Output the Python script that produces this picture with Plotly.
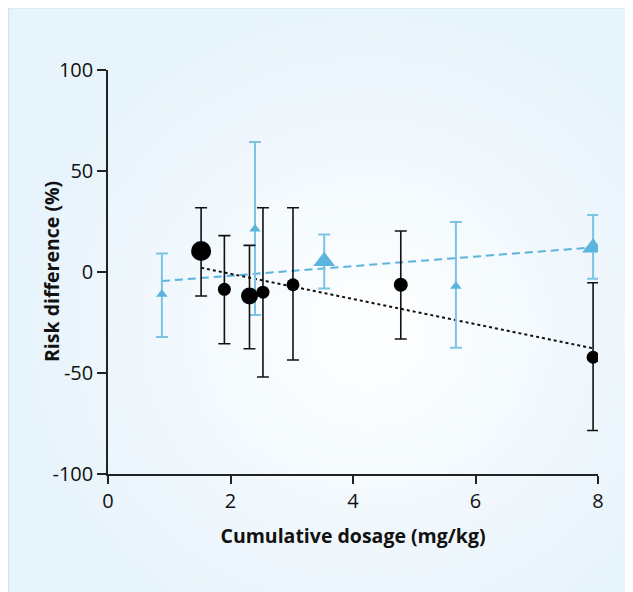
import plotly.graph_objects as go

# Black circles (series 1)
x_black = [1.52, 1.90, 2.31, 2.53, 3.02, 4.78, 7.92]
y_black = [10.4, -8.6, -11.9, -10.0, -6.3, -6.3, -42.2]
hi_black = [31.8, 18.0, 13.2, 31.8, 31.8, 20.3, -5.3]
lo_black = [-11.9, -35.5, -38.0, -52.0, -43.6, -33.2, -78.5]
size_black = [20, 13, 17, 13, 13, 14, 13]

# Blue triangles (series 2)
x_blue = [0.88, 2.40, 3.53, 5.68, 7.92]
y_blue = [-11.0, 21.3, 5.3, -7.0, 12.0]
hi_blue = [9.1, 64.4, 18.6, 24.8, 28.2]
lo_blue = [-32.2, -21.3, -8.2, -37.5, -3.3]
size_blue = [10, 10, 19, 10, 19]

# Trend lines
trend_black_x = [1.52, 7.92]
trend_black_y = [2.1, -37.8]
trend_blue_x = [0.88, 7.92]
trend_blue_y = [-4.5, 12.2]

x_ticks = [0, 2, 4, 6, 8]
y_ticks = [-100, -50, 0, 50, 100]

x_title = "Cumulative dosage (mg/kg)"
y_title = "Risk difference (%)"

# page offset of 8px (browser body margin) compensated
W, H = 625, 584
L, R, T, B = 100, 35, 62, 118
PW, PH = W - L - R, H - T - B

def px(xp):
    return (xp - L) / PW

def py(yp):
    return (H - B - yp) / PH

blue_mark = "#5ab4dc"
blue_err = "#7cc3e4"

fig = go.Figure()

fig.add_trace(go.Scatter(x=trend_blue_x, y=trend_blue_y, mode="lines",
                         line=dict(color=blue_mark, width=2, dash="8px,5px"),
                         hoverinfo="skip", showlegend=False))
fig.add_trace(go.Scatter(x=trend_black_x, y=trend_black_y, mode="lines",
                         line=dict(color="#111111", width=2, dash="3px,3px"),
                         hoverinfo="skip", showlegend=False))

fig.add_trace(go.Scatter(
    x=x_blue, y=y_blue, mode="markers",
    marker=dict(symbol="triangle-up", size=size_blue, color=blue_mark, opacity=1, line=dict(width=0)),
    error_y=dict(type="data", symmetric=False,
                 array=[h - y for h, y in zip(hi_blue, y_blue)],
                 arrayminus=[y - l for l, y in zip(lo_blue, y_blue)],
                 color=blue_err, thickness=2, width=6),
    showlegend=False))

fig.add_trace(go.Scatter(
    x=x_black, y=y_black, mode="markers",
    marker=dict(symbol="circle", size=size_black, color="#000000", opacity=1, line=dict(width=0)),
    error_y=dict(type="data", symmetric=False,
                 array=[h - y for h, y in zip(hi_black, y_black)],
                 arrayminus=[y - l for l, y in zip(lo_black, y_black)],
                 color="#111111", thickness=1.6, width=6),
    showlegend=False))

# Background panel with radial-ish gradient
shapes = []
edge = (232, 244, 251)
center_c = (253, 254, 255)
shapes.append(dict(type="rect", xref="paper", yref="paper",
                   x0=px(0), x1=px(W + 5), y0=py(-1), y1=py(H + 5),
                   fillcolor="rgb(%d,%d,%d)" % edge, line=dict(width=0), layer="below"))
cx, cy, rx, ry = 360, 325, 345, 325
N = 30
for i in range(N):
    f = i / (N - 1)
    s = 1 - f * 0.92
    c = tuple(int(round(edge[k] + (center_c[k] - edge[k]) * f)) for k in range(3))
    shapes.append(dict(type="circle", xref="paper", yref="paper",
                       x0=px(cx - rx * s), x1=px(cx + rx * s),
                       y0=py(cy - ry * s), y1=py(cy + ry * s),
                       fillcolor="rgb(%d,%d,%d)" % c, line=dict(width=0), layer="below"))
shapes.append(dict(type="line", xref="paper", yref="paper",
                   x0=px(0.5), x1=px(0.5), y0=py(-1), y1=py(H + 5),
                   line=dict(color="#cfe5f3", width=1.5), layer="below"))
shapes.append(dict(type="line", xref="paper", yref="paper",
                   x0=px(0), x1=px(W + 5), y0=py(0), y1=py(0),
                   line=dict(color="#d6eaf6", width=1.5), layer="below"))

font_family = "Open Sans, Noto Sans, sans-serif"

fig.update_layout(
    width=W, height=H,
    margin=dict(l=L, r=R, t=T, b=B, pad=0),
    paper_bgcolor="white",
    plot_bgcolor="rgba(0,0,0,0)",
    shapes=shapes,
    font=dict(family=font_family, size=20, color="#111111"),
    xaxis=dict(range=[0, 8], tickvals=x_ticks, ticktext=[str(v) for v in x_ticks],
               showgrid=False, zeroline=False, showline=True, linecolor="#222222", linewidth=1.5,
               ticks="outside", ticklen=8, tickwidth=1.5, tickcolor="#222222",
               tickfont=dict(size=20),
               title=dict(text="<b>%s</b>" % x_title, font=dict(size=19.5), standoff=17)),
    yaxis=dict(range=[-100, 100], tickvals=y_ticks, ticktext=[str(v) for v in y_ticks],
               showgrid=False, zeroline=False, showline=True, linecolor="#222222", linewidth=1.5,
               ticks="outside", ticklen=9, tickwidth=1.5, tickcolor="#222222",
               tickfont=dict(size=20)),
    annotations=[dict(text="<b>%s</b>" % y_title, textangle=-90, showarrow=False,
                      xref="paper", yref="paper", x=px(43), y=0.5,
                      xanchor="center", yanchor="middle", font=dict(size=19.5))],
)

fig.write_html("out.html")
